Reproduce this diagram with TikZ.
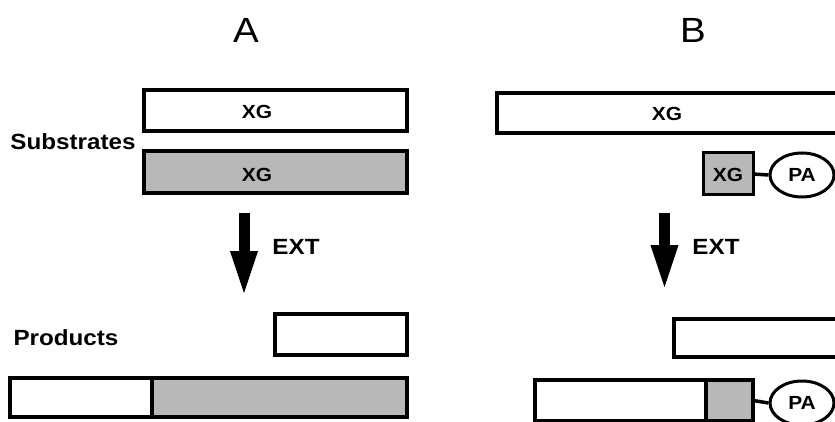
\documentclass[tikz,border=0pt]{standalone}
\usepackage{fontspec}
\newfontfamily\hv[FakeStretch=1.1]{Liberation Sans}
\usetikzlibrary{shapes.geometric,arrows.meta}
\begin{document}
\begin{tikzpicture}[x=1pt,y=-1pt,
  box/.style={draw,line width=3.5pt,inner sep=0pt,outer sep=0pt},
  gbox/.style={box,fill=black!28},
  txt/.style={font=\hv\bfseries\fontsize{19}{19}\selectfont,inner sep=0pt},
  lbl/.style={font=\hv\bfseries\fontsize{22}{22}\selectfont,inner sep=0pt},
  head/.style={font=\hv\fontsize{35}{35}\selectfont,inner sep=0pt},
  pa/.style={draw,ellipse,line width=3pt,minimum width=64pt,minimum height=44pt,inner sep=0pt,font=\hv\bfseries\fontsize{19}{19}\selectfont},
  link/.style={line width=3.5pt},
  bigarrow/.style={line width=11pt,-{Triangle[width=24pt,length=47pt]}}]
\useasboundingbox (0,0) rectangle (835,422);
\clip (0,0) rectangle (835,422);
% headings
\node[head] (hA) at (246,30) {A};
\node[head] (hB) at (693,30) {B};
% panel A
\node[lbl] (sub) at (73,142) {Substrates};
\node[box,minimum width=263pt,minimum height=41pt] (a1) at (275.5,110.5) {};
\node[txt] (a1t) at (257,112) {XG};
\node[gbox,minimum width=263pt,minimum height=42pt] (a2) at (275.5,172) {};
\node[txt] (a2t) at (257,175) {XG};
\coordinate (aas) at (244,213);
\coordinate (aae) at (244,298);
\draw[bigarrow] (aas) -- (aae);
\node[lbl] (extA) at (296,247) {EXT};
\node[lbl] (prod) at (66,338) {Products};
\node[box,minimum width=132pt,minimum height=41pt] (a3) at (341,334.5) {};
\node[box,minimum width=142pt,minimum height=39pt] (a4l) at (81,397.5) {};
\node[gbox,minimum width=255pt,minimum height=39pt] (a4r) at (279.5,397.5) {};
% panel B
\node[box,minimum width=350pt,minimum height=40pt] (b1) at (672,113) {};
\node[txt] (b1t) at (667,114) {XG};
\node[gbox,line width=3pt,minimum width=50pt,minimum height=42pt] (b2) at (728,174) {};
\node[txt] (b2t) at (728,175) {XG};
\node[pa] (pa1) at (802,175) {PA};
\draw[link] (b2.east) -- (pa1.west);
\coordinate (bas) at (664.5,213);
\coordinate (bae) at (664.5,292);
\draw[bigarrow] (bas) -- (bae);
\node[lbl] (extB) at (716,247) {EXT};
\node[box,minimum width=170pt,minimum height=38pt] (b3) at (759,338) {};
\node[box,minimum width=171pt,minimum height=41pt] (b4l) at (620.5,400.5) {};
\node[gbox,minimum width=47pt,minimum height=41pt] (b4r) at (729.5,400.5) {};
\node[pa] (pa2) at (802,403) {PA};
\draw[link] (b4r.east) -- (pa2.west);
\end{tikzpicture}
\end{document}
